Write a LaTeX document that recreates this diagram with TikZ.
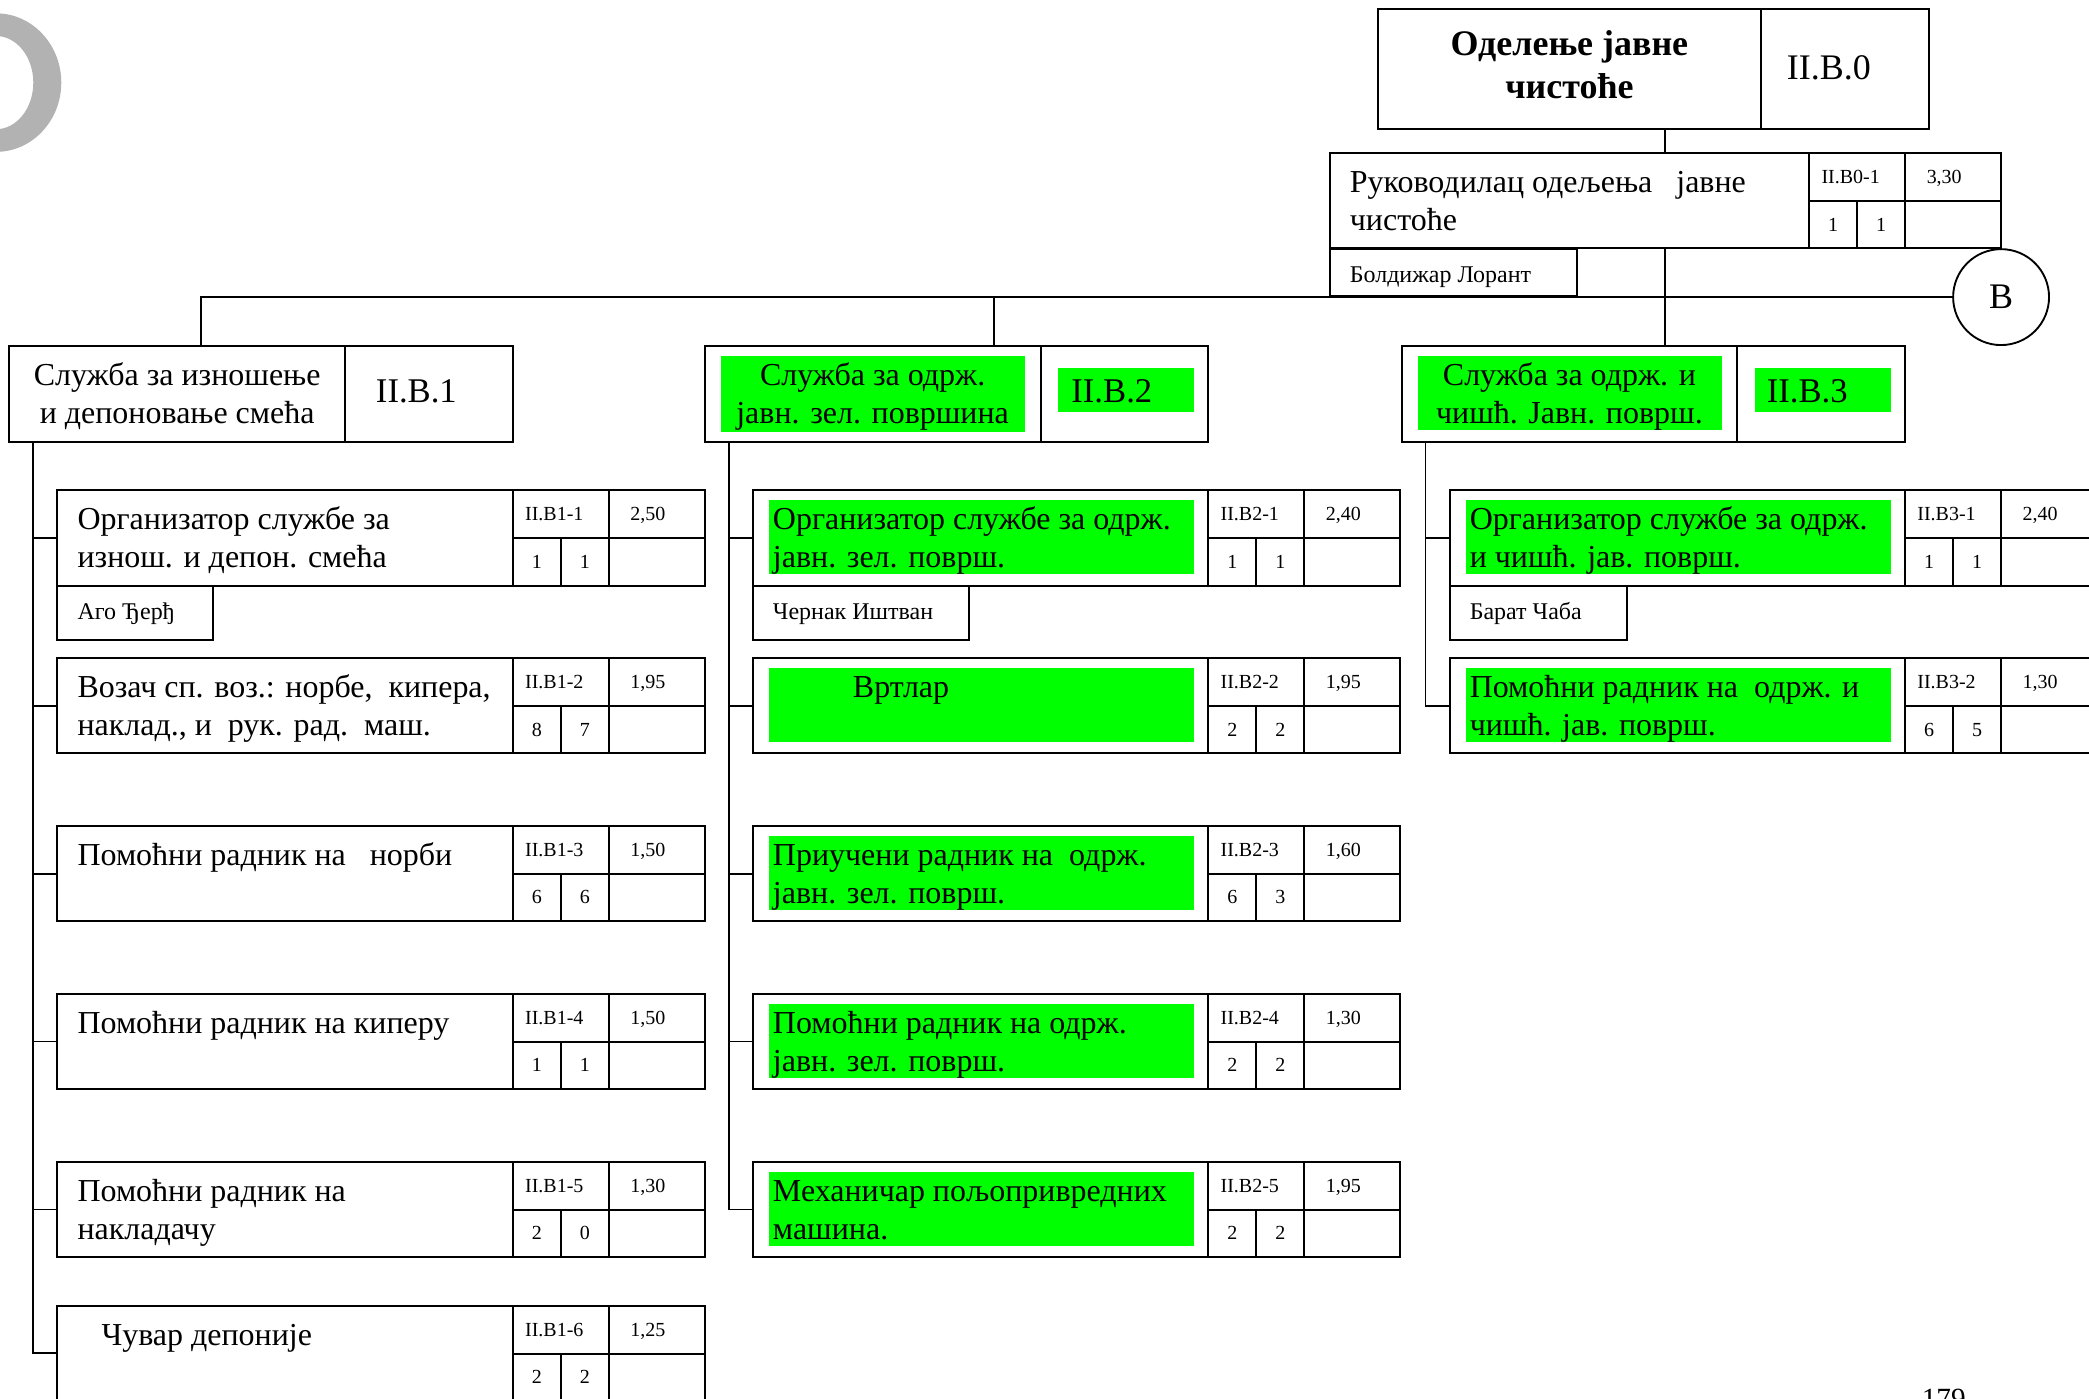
\documentclass[tikz,border=0pt]{standalone}
\usepackage{fontspec}
\setmainfont{Liberation Serif}
\definecolor{hl}{RGB}{0,255,0}
\tikzset{
  frame/.style={draw, line width=1.5pt, inner sep=0pt, outer sep=0pt, anchor=north west},
  cell/.style={line width=1.5pt},
  conn/.style={line width=1.3pt},
  hlbox/.style={fill=hl, draw=none, inner sep=0pt, outer sep=0pt, anchor=north west},
  jobtxt/.style={font=\fontsize{24}{28.5}\selectfont, inner sep=0pt, anchor=north west, align=left},
  headtxt/.style={font=\fontsize{24}{28.5}\selectfont, inner sep=0pt, anchor=north, align=center},
  headcode/.style={font=\fontsize{26}{31}\selectfont, inner sep=0pt, anchor=base west},
  smalltxt/.style={font=\fontsize{15}{18}\selectfont, inner sep=0pt},
  nametxt/.style={font=\fontsize{18}{21}\selectfont, inner sep=0pt, anchor=base west},
}
% #1 name, #2 x, #3 y, #4 text width, #5 text, #6 code, #7 coef, #8 n1, #9 n2
\newcommand\jobrow[9]{%
  \node[frame, minimum width=#4pt+144pt, minimum height=71.5pt] (#1) at (#2,#3) {};
  \draw[cell] (#2+#4,#3) -- (#2+#4,#3+71.5);
  \draw[cell] (#2+#4+72,#3) -- (#2+#4+72,#3+71.5);
  \draw[cell] (#2+#4,#3+36) -- (#2+#4+144,#3+36);
  \draw[cell] (#2+#4+36,#3+36) -- (#2+#4+36,#3+71.5);
  \node[jobtxt] (#1-t) at (#2+15,#3+9.5) {\strut #5};
  \node[smalltxt, anchor=base west] (#1-c) at (#2+#4+9,#3+23) {#6};
  \node[smalltxt, anchor=base west] (#1-k) at (#2+#4+88,#3+23) {#7};
  \node[smalltxt, anchor=base] (#1-a) at (#2+#4+18,#3+58.5) {#8};
  \node[smalltxt, anchor=base] (#1-b) at (#2+#4+54,#3+58.5) {#9};
}
\newcommand\greenjob[3]{%
  \node[hlbox, minimum width=318.5pt, minimum height=55.5pt] (#1-g) at (#2+12.5,#3+7.5) {};
}
\begin{document}
\begin{tikzpicture}[x=1pt,y=-1pt]
\useasboundingbox (0,0) rectangle (1568,1050);
\clip (0,0) rectangle (1568,1050);
\fill[white] (0,0) rectangle (1568,1050);

% gray ring fragment
\fill[black!30, even odd rule] (-3,62) ellipse [x radius=49pt, y radius=52pt]
  (-3,62) ellipse [x radius=28pt, y radius=35pt];

% top box
\node[frame, minimum width=414pt, minimum height=90pt] (top) at (1034,7) {};
\draw[cell] ([xshift=288pt]top.north west) -- ([xshift=288pt]top.south west);
\node[font=\bfseries\fontsize{27}{33}\selectfont, inner sep=0pt, anchor=north, align=center] (top-t) at (1178,18) {\strut Оделење јавне\\чистоће};
\node[headcode, font=\fontsize{27}{32}\selectfont] (top-c) at (1341,59.5) {II.B.0};

% manager
\jobrow{mgr}{998}{115}{360}{Руководилац одељења\ \ \ јавне\\чистоће}{II.B0-1}{3,30}{1}{1}
\node[frame, minimum width=186pt, minimum height=35.5pt] (mgr-n) at (998,187) {};
\node[nametxt] (mgr-nt) at (1013,212) {Болдижар Лорант};

% circle
\node[draw, circle, line width=1.4pt, minimum size=72pt, inner sep=0pt, font=\fontsize{27}{32}\selectfont] (circ) at (1502,223) {B};

% header boxes
\node[frame, minimum width=378pt, minimum height=71.5pt] (b1) at (7,260) {};
\draw[cell] ([xshift=252pt]b1.north west) -- ([xshift=252pt]b1.south west);
\node[headtxt] (b1-t) at (133,269) {\strut Служба за изношење\\и депоновање смећа};
\node[headcode] (b1-c) at (282,302) {II.B.1};

\node[hlbox, minimum width=228pt, minimum height=57pt] (b2-g) at (541.5,267) {};
\node[hlbox, minimum width=102pt, minimum height=33pt] (b2-cg) at (794,276) {};
\node[frame, minimum width=378pt, minimum height=71.5pt] (b2) at (529,260) {};
\draw[cell] ([xshift=252pt]b2.north west) -- ([xshift=252pt]b2.south west);
\node[headtxt] (b2-t) at (655,269) {\strut Служба за одрж.\\јавн. зел. површина};
\node[headcode] (b2-c) at (804,302) {II.B.2};

\node[hlbox, minimum width=228.5pt, minimum height=56pt] (b3-g) at (1064,267) {};
\node[hlbox, minimum width=102pt, minimum height=33pt] (b3-cg) at (1317,276) {};
\node[frame, minimum width=378pt, minimum height=71.5pt] (b3) at (1052,260) {};
\draw[cell] ([xshift=252pt]b3.north west) -- ([xshift=252pt]b3.south west);
\node[headtxt] (b3-t) at (1178,269) {\strut Служба за одрж. и\\чишћ. Јавн. површ.};
\node[headcode] (b3-c) at (1326,302) {II.B.3};

% column 1
\jobrow{j1-1}{43}{368}{342}{Организатор службе за\\изнош. и депон. смећа}{II.B1-1}{2,50}{1}{1}
\node[frame, minimum width=117pt, minimum height=41pt] (j1-1n) at (43,439.5) {};
\node[nametxt] (j1-1nt) at (58,465) {Аго Ђерђ};
\jobrow{j1-2}{43}{494}{342}{Возач сп. воз.: норбе,\ \ кипера,\\наклад., и\ \ рук. рад.\ \ маш.}{II.B1-2}{1,95}{8}{7}
\jobrow{j1-3}{43}{620}{342}{Помоћни радник на\ \ \ норби}{II.B1-3}{1,50}{6}{6}
\jobrow{j1-4}{43}{746}{342}{Помоћни радник на киперу}{II.B1-4}{1,50}{1}{1}
\jobrow{j1-5}{43}{872}{342}{Помоћни радник на\\накладачу}{II.B1-5}{1,30}{2}{0}
\jobrow{j1-6}{43}{980}{342}{\hspace*{18pt}Чувар депоније}{II.B1-6}{1,25}{2}{2}

% column 2
\greenjob{j2-1}{565}{368}
\jobrow{j2-1}{565}{368}{342}{Организатор службе за одрж.\\јавн. зел. површ.}{II.B2-1}{2,40}{1}{1}
\node[frame, minimum width=162pt, minimum height=41pt] (j2-1n) at (565,439.5) {};
\node[nametxt] (j2-1nt) at (580,465) {Чернак Иштван};
\greenjob{j2-2}{565}{494}
\jobrow{j2-2}{565}{494}{342}{\hspace*{60pt}Вртлар}{II.B2-2}{1,95}{2}{2}
\greenjob{j2-3}{565}{620}
\jobrow{j2-3}{565}{620}{342}{Приучени радник на\ \ одрж.\\јавн. зел. површ.}{II.B2-3}{1,60}{6}{3}
\greenjob{j2-4}{565}{746}
\jobrow{j2-4}{565}{746}{342}{Помоћни радник на одрж.\\јавн. зел. површ.}{II.B2-4}{1,30}{2}{2}
\greenjob{j2-5}{565}{872}
\jobrow{j2-5}{565}{872}{342}{Механичар пољопривредних\\машина.}{II.B2-5}{1,95}{2}{2}

% column 3
\greenjob{j3-1}{1088}{368}
\jobrow{j3-1}{1088}{368}{342}{Организатор службе за одрж.\\и чишћ. јав. површ.}{II.B3-1}{2,40}{1}{1}
\node[frame, minimum width=133.5pt, minimum height=41pt] (j3-1n) at (1088,439.5) {};
\node[nametxt] (j3-1nt) at (1103,465) {Барат Чаба};
\greenjob{j3-2}{1088}{494}
\jobrow{j3-2}{1088}{494}{342}{Помоћни радник на\ \ одрж. и\\чишћ. јав. површ.}{II.B3-2}{1,30}{6}{5}

% connectors
\draw[conn] (top.south -| mgr.north) -- (mgr.north);
\draw[conn] (mgr.south) -- (mgr.south |- b3.north);
\coordinate (b1in) at ([xshift=144pt]b1.north west);
\coordinate (b2in) at ([xshift=217pt]b2.north west);
\draw[conn] (circ.west) -- (circ.west -| b1in) -- (b1in);
\draw[conn] (circ.west -| b2in) -- (b2in);

\coordinate (b1s) at ([xshift=18pt]b1.south west);
\draw[conn] (b1s) |- (j1-6.west);
\foreach \r in {1,...,5} \draw[conn] (j1-\r.west) -- (j1-\r.west -| b1s);
\coordinate (b2s) at ([xshift=18pt]b2.south west);
\draw[conn] (b2s) |- (j2-5.west);
\foreach \r in {1,...,4} \draw[conn] (j2-\r.west) -- (j2-\r.west -| b2s);
\coordinate (b3s) at ([xshift=18pt]b3.south west);
\draw[conn] (b3s) |- (j3-2.west);
\draw[conn] (j3-1.west) -- (j3-1.west -| b3s);

% page number (cut off by the page edge, as in the reference)
\node[font=\fontsize{22}{26}\selectfont, inner sep=0pt, anchor=base] (pg) at (1459,1057) {179};
\end{tikzpicture}
\end{document}
